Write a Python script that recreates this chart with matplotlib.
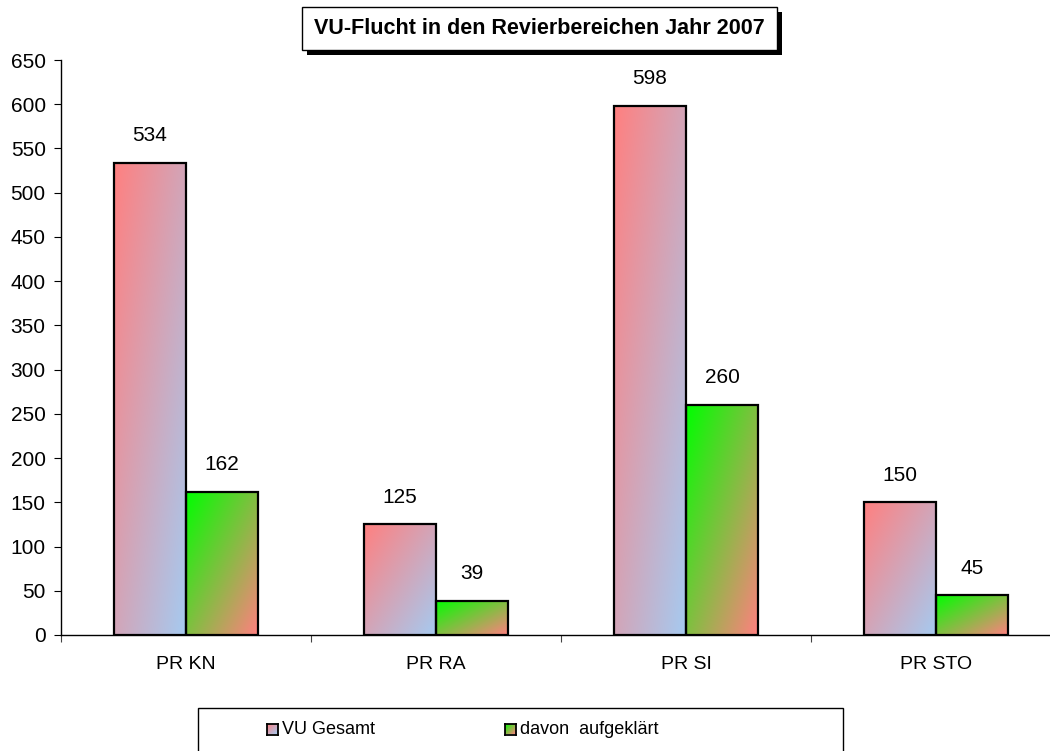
import matplotlib
matplotlib.use('Agg')
import matplotlib.pyplot as plt
import numpy as np
from matplotlib.patches import Rectangle

categories = ['PR KN', 'PR RA', 'PR SI', 'PR STO']
vu_gesamt = [534, 125, 598, 150]
aufgeklaert = [162, 39, 260, 45]
series_names = ['VU Gesamt', 'davon  aufgeklärt']
title_text = 'VU-Flucht in den Revierbereichen Jahr 2007'
yticks = list(range(0, 651, 50))

plt.rcParams['font.family'] = ['Liberation Sans', 'DejaVu Sans']

W, H = 1050, 751
fig = plt.figure(figsize=(10.5, 7.51), dpi=100)
ax = fig.add_axes([61 / W, (H - 635) / H, 1000 / W, 575 / H])

red0 = np.array([255, 128, 128]) / 255
red1 = np.array([166, 202, 240]) / 255
grn0 = np.array([0, 255, 0]) / 255
grn1 = np.array([255, 128, 128]) / 255


def gradient_img(c0, c1, n=80):
    u = np.linspace(0, 1, n)
    U, V = np.meshgrid(u, u)
    T = (U + (1 - V)) / 2
    return c0[None, None, :] * (1 - T[..., None]) + c1[None, None, :] * T[..., None]


def fill_gradient(a, patch, c0, c1):
    x0, y0 = patch.get_x(), patch.get_y()
    w, h = patch.get_width(), patch.get_height()
    im = a.imshow(gradient_img(c0, c1), extent=(x0, x0 + w, y0, y0 + h), origin='lower',
                  aspect='auto', zorder=2, interpolation='bilinear')
    im.set_clip_path(patch)


x = np.arange(len(categories))
bw = 0.288
b1 = ax.bar(x - bw / 2, vu_gesamt, width=bw, facecolor='none', edgecolor='black', linewidth=1.6, zorder=3)
b2 = ax.bar(x + bw / 2, aufgeklaert, width=bw, facecolor='none', edgecolor='black', linewidth=1.6, zorder=3)
for p in b1:
    fill_gradient(ax, p, red0, red1)
for p in b2:
    fill_gradient(ax, p, grn0, grn1)

for bars, vals in ((b1, vu_gesamt), (b2, aufgeklaert)):
    for p, v in zip(bars, vals):
        ax.annotate(str(v), (p.get_x() + p.get_width() / 2, v), xytext=(0, 19.5),
                    textcoords='offset points', ha='center', va='center', fontsize=15)

ax.set_xlim(-0.5, 3.5)
ax.set_ylim(0, 650)
ax.set_yticks(yticks)
ax.set_yticklabels([str(t) for t in yticks], fontsize=15)
ax.set_xticks(np.arange(-0.5, 4.0, 1.0))
ax.set_xticklabels([])
ax.set_xticks(x, minor=True)
ax.set_xticklabels(categories, minor=True, fontsize=14)
ax.tick_params(axis='x', which='major', length=5, direction='out', color='#444444')
ax.tick_params(axis='x', which='minor', length=0, pad=15)
ax.tick_params(axis='y', length=5, direction='out', pad=6)
for s in ('top', 'right'):
    ax.spines[s].set_visible(False)
ax.spines['left'].set_linewidth(1.0)
ax.spines['bottom'].set_linewidth(1.0)

# Title box with shadow
tx0, ty0, tx1, ty1 = 302, 7, 777, 50
fig.patches.append(Rectangle(((tx0 + 5) / W, (H - ty1 - 5) / H), (tx1 - tx0) / W, (ty1 - ty0) / H,
                             transform=fig.transFigure, facecolor='black', edgecolor='none', zorder=1))
fig.patches.append(Rectangle((tx0 / W, (H - ty1) / H), (tx1 - tx0) / W, (ty1 - ty0) / H,
                             transform=fig.transFigure, facecolor='white', edgecolor='black',
                             linewidth=1.0, zorder=2))
fig.text((tx0 + tx1) / 2 / W, (H - (ty0 + ty1) / 2) / H, title_text, ha='center', va='center',
         fontsize=15.5, fontweight='bold', zorder=3)

# Legend box
lx0, ly0, lx1, ly1 = 198, 708, 843, 760
fig.patches.append(Rectangle((lx0 / W, (H - ly1) / H), (lx1 - lx0) / W, (ly1 - ly0) / H,
                             transform=fig.transFigure, facecolor='white', edgecolor='black',
                             linewidth=1.0, zorder=1))
leg_items = [(series_names[0], red0, red1, 272), (series_names[1], grn0, grn1, 510)]
for name, c0, c1, mx in leg_items:
    ms = 11
    my = 729
    lax = fig.add_axes([(mx - ms / 2) / W, (H - my - ms / 2) / H, ms / W, ms / H], zorder=5)
    lax.imshow(gradient_img(c0, c1, 20), extent=(0, 1, 0, 1), origin='lower', aspect='auto')
    lax.set_xticks([])
    lax.set_yticks([])
    for s in lax.spines.values():
        s.set_linewidth(1.3)
        s.set_color('black')
    fig.text((mx + ms / 2 + 5) / W, (H - my) / H, name, ha='left', va='center', fontsize=13,
             zorder=5)

fig.savefig('out.png', dpi=100)
